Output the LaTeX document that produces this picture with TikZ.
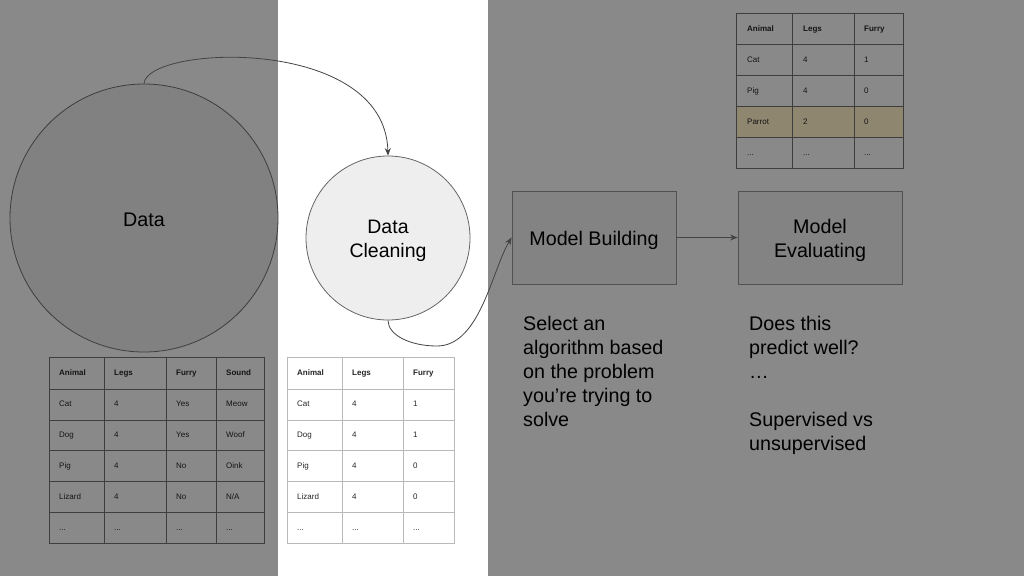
\documentclass[tikz,border=0pt]{standalone}
\usepackage{fontspec}
\setmainfont{Liberation Sans}
\usetikzlibrary{arrows.meta}
\definecolor{bggray}{RGB}{137,137,137}
\definecolor{datafill}{RGB}{129,129,129}
\definecolor{boxfill}{RGB}{131,131,131}
\definecolor{darkline}{RGB}{62,62,62}
\definecolor{cleanfill}{RGB}{238,238,238}
\definecolor{parrotfill}{RGB}{143,134,112}
\definecolor{lightgrid}{RGB}{185,185,185}
\definecolor{conn}{RGB}{68,68,68}
\definecolor{dimtext}{RGB}{20,20,20}
\newcommand\tdots{...}
\tikzset{
  bigcircle/.style={circle, draw=darkline, line width=0.8pt, fill=datafill, minimum size=268pt, inner sep=0pt},
  cleancircle/.style={circle, draw=darkline!80, line width=0.8pt, fill=cleanfill, minimum size=164pt, inner sep=0pt},
  stagebox/.style={draw=darkline!90, line width=0.8pt, fill=boxfill, minimum width=164pt, minimum height=93pt, inner sep=0pt},
  midtext/.style={align=center, font=\fontsize{19.7}{24}\selectfont, yshift=-2.5pt},
  conarrow/.style={draw=conn, line width=0.8pt, -{Stealth[length=7.5pt,width=6pt]}},
  cell/.style={anchor=base west, inner sep=0pt, font=\fontsize{8}{9}\selectfont},
  notes/.style={anchor=north west, inner sep=0pt, align=left, font=\fontsize{19.7}{24}\selectfont}
}
\begin{document}
\begin{tikzpicture}[x=1pt,y=-1pt]
\useasboundingbox (0,0) rectangle (1024,576);
\fill[bggray] (0,0) rectangle (1024,576);
\fill[white] (278,0) rectangle (488,576);

% circles and boxes
\node[bigcircle, label={[midtext, yshift=0.5pt]center:Data}] (data) at (144,218) {};
\node[cleancircle, label={[midtext, font=\fontsize{19.5}{24}\selectfont]center:{Data\\Cleaning}}] (clean) at (388,238) {};
\node[stagebox, label={[midtext]center:Model Building}] (build) at (594,237.5) {};
\node[stagebox, label={[midtext]center:{Model\\Evaluating}}] (eval) at (820,237.5) {};

% connectors
\draw[conarrow] (data.north) .. controls (147,45) and (385,35) .. (clean.north);
\draw[conarrow] (clean.south) .. controls (388,335) and (410,346) .. (437,346)
                 .. controls (480,346) and (492,270) .. (build.west);
\draw[conarrow] (build.east) -- (eval.west);

% notes
\node[notes] (note1) at (523,316.5) {Select an\\algorithm based\\on the problem\\you’re trying to\\solve};
\node[notes] (note2) at (749,316.5) {Does this\\predict well?\\…\\[24pt]Supervised vs\\unsupervised};

% table 1 (bottom left)
\draw[darkline, line width=0.7pt] (49,357) rectangle (264,543);
\foreach \xx in {104,166,216} \draw[darkline, line width=0.7pt] (\xx,357) -- (\xx,543);
\foreach \yy in {389,420,450,481,512} \draw[darkline, line width=0.7pt] (49,\yy) -- (264,\yy);
\foreach \rowcells [count=\r] in {{Animal,Legs,Furry,Sound},{Cat,4,Yes,Meow},{Dog,4,Yes,Woof},{Pig,4,No,Oink},{Lizard,4,No,N/A},{\tdots,\tdots,\tdots,\tdots}}{
  \foreach \cl [count=\c] in \rowcells {
    \pgfmathsetmacro\cx{{59,114,176,226}[\c-1]}
    \pgfmathsetmacro\cy{357+31*(\r-0.5)+3}
    \node[cell, text=dimtext] (ta-\r-\c) at (\cx,\cy) {\ifnum\r=1 \bfseries\fi\cl};
  }
}

% table 2 (bottom middle)
\draw[lightgrid, line width=0.7pt] (287,357) rectangle (454,543);
\foreach \xx in {342,403} \draw[lightgrid, line width=0.7pt] (\xx,357) -- (\xx,543);
\foreach \yy in {389,420,450,481,512} \draw[lightgrid, line width=0.7pt] (287,\yy) -- (454,\yy);
\foreach \rowcells [count=\r] in {{Animal,Legs,Furry},{Cat,4,1},{Dog,4,1},{Pig,4,0},{Lizard,4,0},{\tdots,\tdots,\tdots}}{
  \foreach \cl [count=\c] in \rowcells {
    \pgfmathsetmacro\cx{{297,352,413}[\c-1]}
    \pgfmathsetmacro\cy{357+31*(\r-0.5)+3}
    \node[cell, text=black!85] (tb-\r-\c) at (\cx,\cy) {\ifnum\r=1 \bfseries\fi\cl};
  }
}

% table 3 (top right)
\fill[parrotfill] (736,106) rectangle (903,137);
\draw[darkline, line width=0.7pt] (736,13) rectangle (903,168);
\foreach \xx in {792,854} \draw[darkline, line width=0.7pt] (\xx,13) -- (\xx,168);
\foreach \yy in {44,75,106,137} \draw[darkline, line width=0.7pt] (736,\yy) -- (903,\yy);
\foreach \rowcells [count=\r] in {{Animal,Legs,Furry},{Cat,4,1},{Pig,4,0},{Parrot,2,0},{\tdots,\tdots,\tdots}}{
  \foreach \cl [count=\c] in \rowcells {
    \pgfmathsetmacro\cx{{747,803,864}[\c-1]}
    \pgfmathsetmacro\cy{13+31*(\r-0.5)+3}
    \node[cell, text=dimtext] (tc-\r-\c) at (\cx,\cy) {\ifnum\r=1 \bfseries\fi\cl};
  }
}
\end{tikzpicture}
\end{document}
